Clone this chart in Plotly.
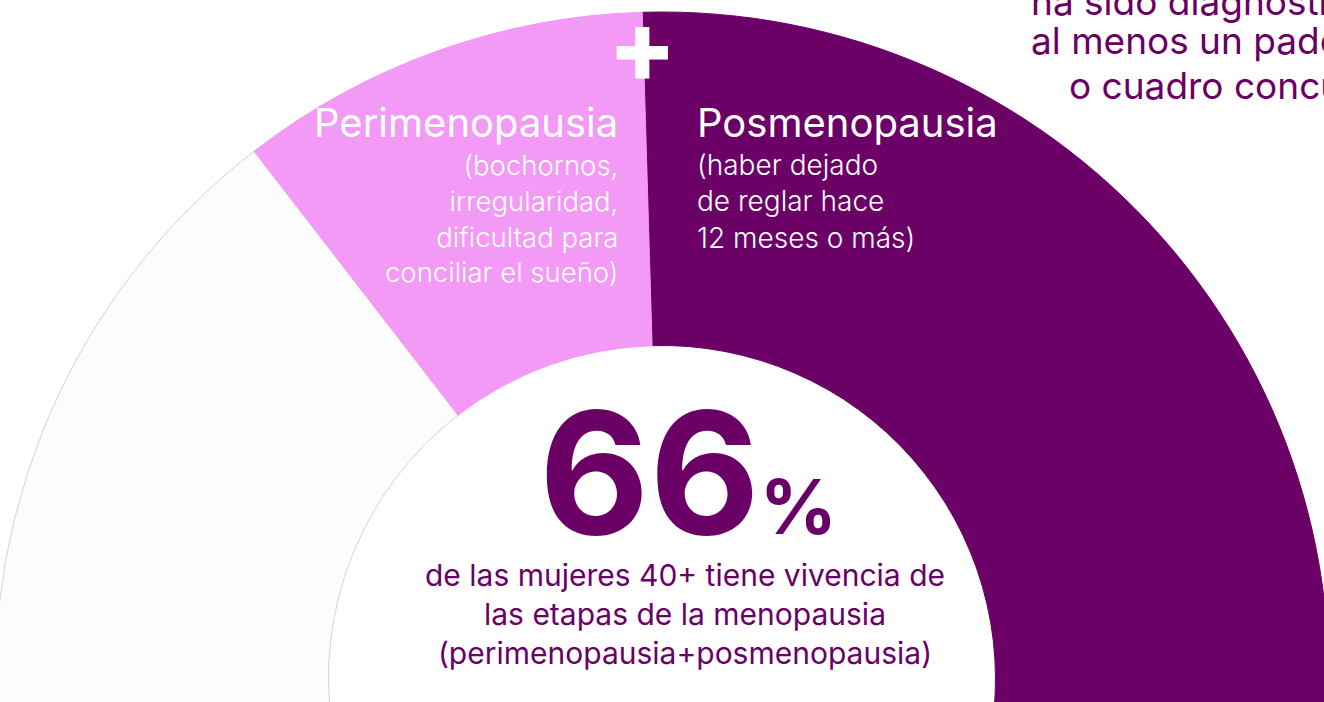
import plotly.graph_objects as go

# ---------------- data ----------------
stages = ["Posmenopausia", "Sin vivencia de la menopausia", "Perimenopausia"]
shares = [56, 34, 10]
stage_colors = ["#6b0066", "#fcfcfc", "#f29af6"]
edge_colors = ["#6b0066", "#d3d3d3", "#f29af6"]

headline_value = "66"
headline_unit = "%"
headline_lines = ["de las mujeres 40+ tiene vivencia de",
                  "las etapas de la menopausia",
                  "(perimenopausia+posmenopausia)"]
peri_title = "Perimenopausia"
peri_desc = ["(bochornos,", "irregularidad,", "dificultad para", "conciliar el sueño)"]
pos_title = "Posmenopausia"
pos_desc = ["(haber dejado", "de reglar hace", "12 meses o más)"]
side_lines = ["ha sido diagnosticada con", "al menos un padecimiento", "o cuadro concurrente"]

# ---------------- layout constants ----------------
W, H = 1400, 1400          # figure is larger than the window; only the top-left part is shown
SHIFT = 5                  # figure shifted 5px to the left on the page
FONT = "Inter"
PURPLE = "#6a0066"

CX, CY, R = 662 + SHIFT, 679, 667   # pie centre / radius in figure pixels


def fx(px):
    return (px + SHIFT) / W


def fy(py):
    return 1 - py / H


fig = go.Figure(go.Pie(
    labels=stages,
    values=shares,
    hole=0.5,
    sort=False,
    direction="clockwise",
    rotation=-1.7,
    textinfo="none",
    hoverinfo="label+percent",
    marker=dict(colors=stage_colors, line=dict(color=edge_colors, width=1)),
    domain=dict(x=[(CX - R) / W, (CX + R) / W], y=[1 - (CY + R) / H, 1 - (CY - R) / H]),
    showlegend=False,
))

annotations = []


def ann(text, x, y, size, color, xanchor="center", align="center", weight=400):
    annotations.append(dict(
        text=text, x=fx(x), y=fy(y), xref="paper", yref="paper",
        xanchor=xanchor, yanchor="middle", align=align, showarrow=False,
        borderpad=0, borderwidth=0,
        font=dict(family=FONT, size=size, color=color, weight=weight),
    ))


# plus sign
ann("+", 642, 46, 100, "white", weight=800)
# slice titles and descriptions
ann(peri_title, 618, 122, 40, "white", xanchor="right", align="right")
ann("<br>".join(peri_desc), 618, 219, 27.5, "white", xanchor="right", align="right", weight=300)
ann(pos_title, 697, 122, 40, "white", xanchor="left", align="left")
ann("<br>".join(pos_desc), 697, 201, 28, "white", xanchor="left", align="left", weight=300)
# headline
ann(headline_value + "<span style='font-size:76px'>" + headline_unit + "</span>",
    688, 472, 170, PURPLE, weight=700)
ann("<br>".join(headline_lines), 685, 614, 30, PURPLE, weight=400)
# side text (cut by the window edge)
side_x = [1031, 1031, 1069]
side_y = [1.5, 41, 85.5]
for t, x, y in zip(side_lines, side_x, side_y):
    ann(t, x, y, 37, PURPLE, xanchor="left", align="left")

fig.update_layout(
    width=W, height=H,
    margin=dict(l=0, r=0, t=0, b=0),
    paper_bgcolor="white", plot_bgcolor="white",
    annotations=annotations,
)

post = """
var gd=document.getElementById('{plot_id}');
var w=gd.parentElement;
w.style.width='1324px';w.style.height='702px';w.style.overflow='hidden';
gd.style.marginLeft='-%dpx';
document.body.style.margin='0';
document.body.style.overflow='hidden';
document.documentElement.style.overflow='hidden';
""" % SHIFT

fig.write_html("out.html", config={"displayModeBar": False}, post_script=post)
